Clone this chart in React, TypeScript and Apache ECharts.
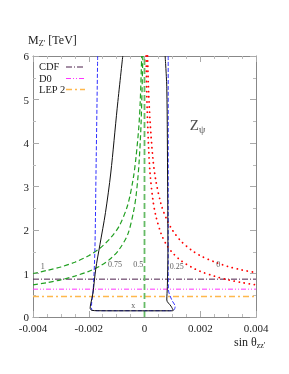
import React, { useEffect, useRef } from "react";
import * as echarts from "echarts";

// Axis ranges / ticks
const xRange = [-0.004, 0.004];
const yRange = [0, 6];
const xStep = 0.002;
const yStep = 1;

// Experimental lower limits on M_Z' (TeV)
const limitNames = ["CDF", "D0", "LEP 2"];
const limitValues = [0.87, 0.64, 0.47];

// Green dashed curves (left side), labelled "1" and "0.75"
const green1: [number, number][] = [
  [-0.004, 1.0], [-0.0035, 1.07], [-0.003, 1.15], [-0.0025, 1.26], [-0.002, 1.41],
  [-0.0016, 1.58], [-0.0012, 1.83], [-0.0009, 2.1], [-0.0006, 2.58], [-0.0004, 3.2],
  [-0.0003, 3.7], [-0.0002, 4.4], [-0.00015, 5.0], [-0.0001, 6.0],
];
const green075: [number, number][] = [
  [-0.004, 0.74], [-0.0035, 0.79], [-0.003, 0.855], [-0.0025, 0.94], [-0.002, 1.05],
  [-0.0016, 1.17], [-0.0012, 1.35], [-0.0009, 1.56], [-0.0006, 1.9], [-0.0004, 2.4],
  [-0.0003, 2.8], [-0.0002, 3.5], [-0.00012, 4.5], [-0.00006, 6.0],
];
// Vertical green dashed line "0.5"
const green05: [number, number][] = [[0, 0], [0, 6]];

// Red dotted curves (right side), labelled "0" and "0.25"
const red0: [number, number][] = [
  [0.00011, 6.0], [0.00014, 5.3], [0.0002, 4.5], [0.0003, 3.65], [0.0004, 3.16],
  [0.0006, 2.58], [0.0008, 2.24], [0.001, 2.0], [0.0013, 1.75], [0.0017, 1.53],
  [0.002, 1.41], [0.0025, 1.27], [0.003, 1.16], [0.0035, 1.08], [0.004, 1.02],
];
const red025: [number, number][] = [
  [0.00006, 6.0], [0.00008, 5.2], [0.0001, 4.7], [0.00015, 3.85], [0.0002, 3.3],
  [0.0003, 2.7], [0.0004, 2.34], [0.0006, 1.91], [0.0008, 1.65], [0.001, 1.48],
  [0.0013, 1.3], [0.0017, 1.14], [0.002, 1.05], [0.0025, 0.94], [0.003, 0.855],
  [0.0035, 0.79], [0.004, 0.74],
];

// Closed-ish contours: black solid and blue dashed
const blackContour: [number, number][] = [
  [-0.00078, 6.0], [-0.00098, 4.8], [-0.00121, 3.31], [-0.0014, 2.4], [-0.0016, 1.66],
  [-0.00175, 1.1], [-0.00185, 0.55], [-0.00193, 0.3], [-0.00195, 0.2], [-0.0019, 0.155],
  [-0.0017, 0.145], [-0.001, 0.142], [0, 0.142], [0.0009, 0.142], [0.00103, 0.15],
  [0.00095, 0.25], [0.0008, 0.39], [0.00082, 0.7], [0.00084, 1.5], [0.00083, 3.0],
  [0.0008, 5.26], [0.00074, 6.0],
];
const blueContour: [number, number][] = [
  [-0.00168, 6.0], [-0.00174, 3.3], [-0.00178, 1.54], [-0.00184, 0.62], [-0.0019, 0.27],
  [-0.0019, 0.17], [-0.0017, 0.145], [-0.001, 0.145], [0, 0.145], [0.0009, 0.145],
  [0.00105, 0.16], [0.0011, 0.24], [0.00098, 0.39], [0.00086, 0.62], [0.00085, 1.0],
  [0.00085, 3.0], [0.00085, 6.0],
];

// Curve labels
const curveLabels: { name: string; value: [number, number] }[] = [
  { name: "1", value: [-0.00365, 1.17] },
  { name: "0.75", value: [-0.00106, 1.2] },
  { name: "0.5", value: [-0.00022, 1.2] },
  { name: "0.25", value: [0.00116, 1.17] },
  { name: "0", value: [0.00265, 1.2] },
  { name: "x", value: [-0.0004, 0.26] },
];
const modelLabelPos: [number, number] = [0.0019, 4.42];

const limitColors = ["#4b1f4b", "#ff33ff", "#ffb84d"];
const limitDash = [[6, 2, 1, 2], [5, 2, 1, 2, 1, 2], [6, 3, 2, 3]];
const limitWidth = [1, 1, 1.4];

const SERIF = "'Liberation Serif', 'DejaVu Serif', serif";

export default function App() {
  const ref = useRef<HTMLDivElement>(null);
  useEffect(() => {
    if (!ref.current) return;
    const chart = echarts.init(ref.current, undefined, { renderer: "svg" });
    const fmt = (v: number) => (Math.abs(v) < 1e-12 ? "0" : String(+v.toFixed(3)));
    const axisLineStyle = { color: "#888", width: 1 };
    const baseX = {
      type: "value" as const,
      min: xRange[0],
      max: xRange[1],
      interval: xStep,
      splitLine: { show: false },
      axisLine: { show: true, onZero: false, lineStyle: axisLineStyle },
      axisTick: { show: true, inside: true, length: 6, lineStyle: { color: "#aaa" } },
      minorTick: { show: true, splitNumber: 4, length: 3, lineStyle: { color: "#bbb" } },
    };
    const baseY = {
      type: "value" as const,
      min: yRange[0],
      max: yRange[1],
      interval: yStep,
      splitLine: { show: false },
      axisLine: { show: true, onZero: false, lineStyle: axisLineStyle },
      axisTick: { show: true, inside: true, length: 6, lineStyle: { color: "#aaa" } },
      minorTick: { show: true, splitNumber: 2, length: 3, lineStyle: { color: "#bbb" } },
    };

    const limitSeries = limitNames.map((n, i) => ({
      name: n,
      type: "line" as const,
      data: [[xRange[0], limitValues[i]], [xRange[1], limitValues[i]]],
      symbol: "none",
      lineStyle: { color: limitColors[i], width: limitWidth[i], type: limitDash[i] },
      z: 3,
    }));

    const curve = (
      name: string,
      data: [number, number][],
      color: string,
      width: number,
      type: any,
      cap: any = "butt"
    ) => ({
      name,
      type: "line" as const,
      data,
      symbol: "none",
      smooth: 0.3,
      clip: true,
      lineStyle: { color, width, type, cap },
      z: 4,
    });

    chart.setOption({
      animation: false,
      grid: { left: 33, right: 33, top: 56, bottom: 57, containLabel: false },
      xAxis: [
        {
          ...baseX,
          position: "bottom",
          axisLabel: { show: true, formatter: fmt, fontFamily: SERIF, fontSize: 11, color: "#222", margin: 5 },
        },
        { ...baseX, position: "top", axisLabel: { show: false } },
      ],
      yAxis: [
        {
          ...baseY,
          position: "left",
          axisLabel: { show: true, fontFamily: SERIF, fontSize: 11, color: "#222", margin: 4 },
        },
        { ...baseY, position: "right", axisLabel: { show: false } },
      ],
      series: [
        ...limitSeries,
        curve("green 1", green1, "#22a022", 1.2, [5, 3]),
        curve("green 0.75", green075, "#22a022", 1.2, [5, 3]),
        { ...curve("green 0.5", green05, "#66bb66", 1.8, [6, 3]), smooth: false },
        curve("red 0", red0, "#ff0000", 1.8, [0.1, 5], "round"),
        curve("red 0.25", red025, "#ff0000", 1.8, [0.1, 5], "round"),
        curve("blue", blueContour, "#3030ff", 1, [4, 2]),
        curve("black", blackContour, "#111", 1, "solid"),
        {
          name: "labels",
          type: "scatter",
          data: curveLabels,
          symbolSize: 0,
          silent: true,
          label: {
            show: true,
            position: "inside",
            formatter: "{b}",
            fontFamily: SERIF,
            fontSize: 8,
            color: "#333",
          },
          z: 6,
        },
        {
          name: "model",
          type: "scatter",
          data: [{ name: "Zpsi", value: modelLabelPos }],
          symbolSize: 0,
          silent: true,
          label: {
            show: true,
            position: "inside",
            formatter: "{z|Z}{s|ψ}",
            rich: {
              z: { fontFamily: SERIF, fontSize: 15, color: "#222" },
              s: { fontFamily: SERIF, fontSize: 10, color: "#222", padding: [10, 0, 0, 0] },
            },
          },
          z: 6,
        },
      ],
      graphic: [
        {
          type: "text",
          left: 28,
          top: 34,
          style: {
            text: "{m|M}{s|Z'} {m|[TeV]}",
            rich: {
              m: { fontFamily: SERIF, fontSize: 12, fill: "#222" },
              s: { fontFamily: SERIF, fontSize: 8, fill: "#222", padding: [7, 0, 0, 0] },
            },
          },
        },
        {
          type: "text",
          left: 234,
          top: 336,
          style: {
            text: "{m|sin θ}{s|zz'}",
            rich: {
              m: { fontFamily: SERIF, fontSize: 12, fill: "#222" },
              s: { fontFamily: SERIF, fontSize: 8, fill: "#222", padding: [6, 0, 0, 0] },
            },
          },
        },
        // Legend
        ...limitNames.flatMap((n, i) => {
          const y = [67, 78.5, 89.5][i];
          return [
            {
              type: "text",
              left: 39,
              top: y - 6,
              style: { text: n, fontFamily: SERIF, fontSize: 10.5, fill: "#222" },
            },
            {
              type: "line",
              shape: { x1: 66, y1: y, x2: 85, y2: y },
              style: { stroke: limitColors[i], lineWidth: limitWidth[i], lineDash: limitDash[i] },
            },
          ];
        }),
      ],
    });
    return () => chart.dispose();
  }, []);
  return <div ref={ref} style={{ position: "fixed", left: 0, top: 0, width: 289, height: 374 }} />;
}
